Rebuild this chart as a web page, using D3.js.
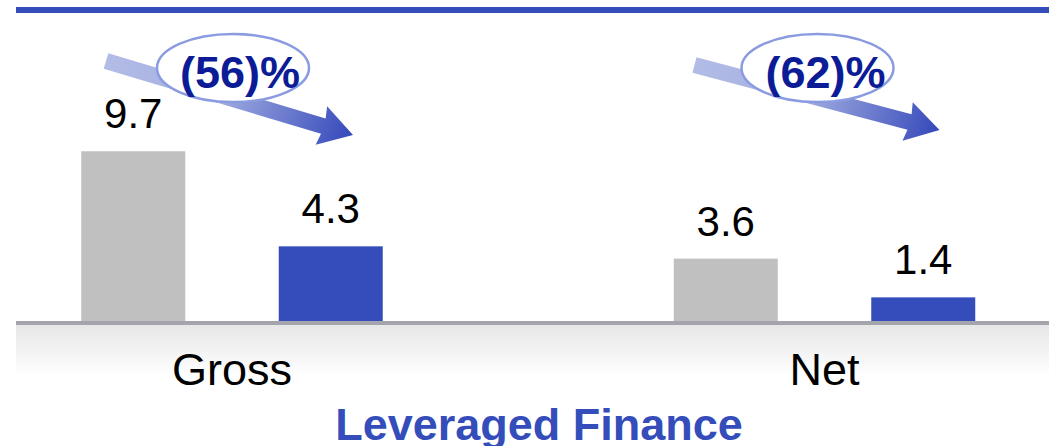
<!DOCTYPE html>
<html lang="en">
<head>
<meta charset="utf-8">
<script src="https://d3js.org/d3.v7.min.js"></script>
<style>
  body { margin: 0; background: #fff; }
  text { font-family: Arial, "Liberation Sans", sans-serif; }
</style>
</head>
<body>
<script>
// data
const groups = ["Gross", "Net"];
const series = ["prior", "current"];
const priorValues = [9.7, 3.6];
const currentValues = [4.3, 1.4];
const changeLabels = ["(56)%", "(62)%"];
const title = "Leveraged Finance";

const W = 1049, H = 446;
const baseY = 322;

const svg = d3.select("body").append("svg")
  .attr("width", W)
  .attr("height", H);

const defs = svg.append("defs");

// gradient under the baseline
const fade = defs.append("linearGradient")
  .attr("id", "fade").attr("x1", 0).attr("y1", 0).attr("x2", 0).attr("y2", 1);
fade.append("stop").attr("offset", "0%").attr("stop-color", "#e6e6e6");
fade.append("stop").attr("offset", "100%").attr("stop-color", "#ffffff");

// arrow gradient
const ag = defs.append("linearGradient")
  .attr("id", "arrowGrad").attr("x1", 0).attr("y1", 0).attr("x2", 1).attr("y2", 0);
ag.append("stop").attr("offset", "0%").attr("stop-color", "#b2bce6");
ag.append("stop").attr("offset", "45%").attr("stop-color", "#a3aee0");
ag.append("stop").attr("offset", "100%").attr("stop-color", "#3549bb");

// top rule
svg.append("rect")
  .attr("x", 16).attr("y", 7).attr("width", W - 16).attr("height", 6)
  .attr("fill", "#344dba");

// scales
const x = d3.scalePoint().domain(groups).range([232, 824.5]);
const xi = d3.scalePoint().domain(series).range([-98.75, 98.75]);
const barW = 104;
const y = d3.scaleLinear().domain([0, 10]).range([baseY, baseY - 176]);

const colors = { prior: "#c0c0c0", current: "#344dba" };

const rows = [];
groups.forEach((g, i) => {
  rows.push({ group: g, key: "prior", value: priorValues[i] });
  rows.push({ group: g, key: "current", value: currentValues[i] });
});

// floor gradient
svg.append("rect")
  .attr("x", 16).attr("y", baseY + 2).attr("width", W - 16).attr("height", 52)
  .attr("fill", "url(#fade)");

// bars
svg.selectAll("rect.bar")
  .data(rows)
  .join("rect")
  .attr("class", "bar")
  .attr("x", d => x(d.group) + xi(d.key) - barW / 2)
  .attr("y", d => y(d.value))
  .attr("width", barW)
  .attr("height", d => y(0) - y(d.value))
  .attr("fill", d => colors[d.key]);

// baseline
svg.append("line")
  .attr("x1", 16).attr("x2", W)
  .attr("y1", baseY + 1).attr("y2", baseY + 1)
  .attr("stroke", "#a4a4ac").attr("stroke-width", 4);

// value labels
svg.selectAll("text.val")
  .data(rows)
  .join("text")
  .attr("class", "val")
  .attr("x", d => x(d.group) + xi(d.key))
  .attr("y", d => y(d.value) - 23)
  .attr("text-anchor", "middle")
  .attr("font-size", 42)
  .attr("fill", "#000")
  .text(d => d.value.toFixed(1));

// category labels
svg.selectAll("text.cat")
  .data(groups)
  .join("text")
  .attr("class", "cat")
  .attr("x", d => x(d))
  .attr("y", 385)
  .attr("text-anchor", "middle")
  .attr("font-size", 45)
  .attr("fill", "#000")
  .text(d => d);

// change arrows with ellipse callouts
const arrowShape = (len) => {
  const sh = 8, hh = 20, hb = len - 31;
  return [[0, -sh], [hb, -sh], [hb - 2, -hh], [len, 0], [hb - 2, hh], [hb, sh], [0, sh]];
};

svg.selectAll("g.ann")
  .data(groups)
  .join("g")
  .attr("class", "ann")
  .each(function(g, i) {
    const cx = x(g);
    const tail = [cx - 126 - i * 4, 61 + i * 4];
    const tip = [cx + 121 - i * 6, 135 - i * 5];
    const len = Math.hypot(tip[0] - tail[0], tip[1] - tail[1]);
    const ang = Math.atan2(tip[1] - tail[1], tip[0] - tail[0]) * 180 / Math.PI;
    const el = d3.select(this);
    el.append("path")
      .attr("transform", `translate(${tail[0]},${tail[1]}) rotate(${ang})`)
      .attr("d", d3.line()(arrowShape(len)) + "Z")
      .attr("fill", "url(#arrowGrad)");
    el.append("ellipse")
      .attr("cx", cx + 1 - i * 8).attr("cy", 68)
      .attr("rx", 76).attr("ry", 34)
      .attr("fill", "#fff")
      .attr("stroke", "#8b9be0")
      .attr("stroke-width", 2.5);
    el.append("text")
      .attr("x", cx + 8 - i * 7)
      .attr("y", 88)
      .attr("text-anchor", "middle")
      .attr("font-size", 45)
      .attr("font-weight", "bold")
      .attr("fill", "#0b1c96")
      .text(changeLabels[i]);
  });

// title
svg.append("text")
  .attr("x", 539)
  .attr("y", 440)
  .attr("text-anchor", "middle")
  .attr("font-size", 45)
  .attr("font-weight", "bold")
  .attr("fill", "#344dba")
  .text(title);
</script>
</body>
</html>
